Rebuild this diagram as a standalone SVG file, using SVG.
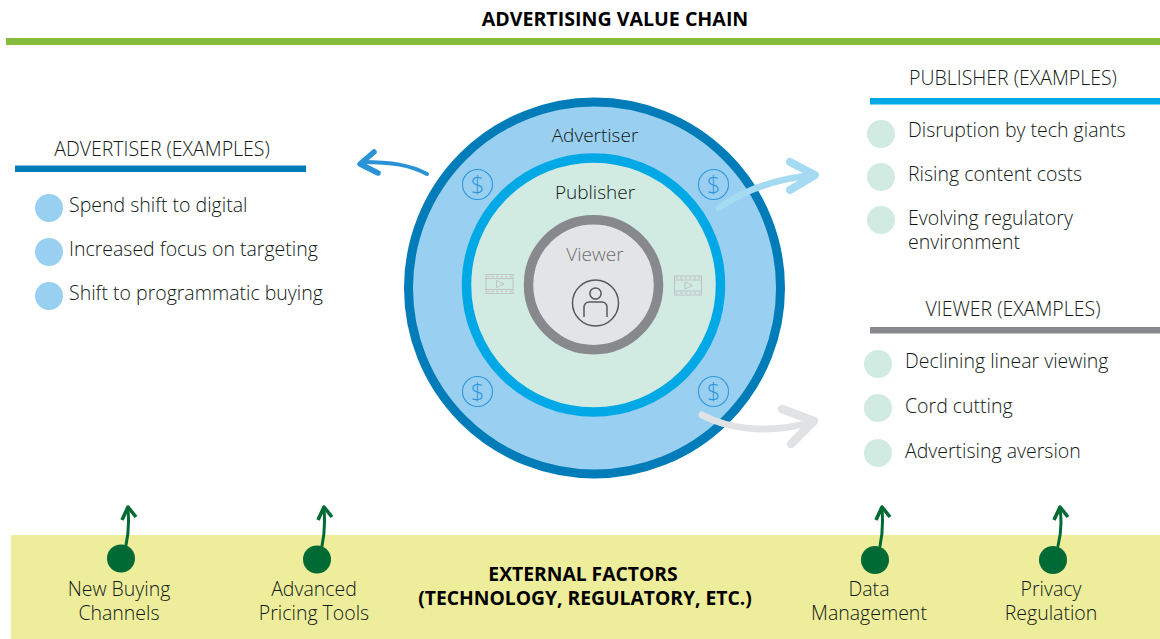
<svg xmlns="http://www.w3.org/2000/svg" width="1160" height="639" viewBox="0 0 1160 639">
<style>
text{font-family:"Open Sans","Noto Sans","Liberation Sans",sans-serif;font-weight:300;font-size:19.5px;fill:#111a15}
.b{font-weight:700;font-size:19.3px;fill:#000}
.t{font-size:19.6px}
.r{font-size:19px}
.m{text-anchor:middle}
.usd{fill:none;stroke:#2e96dc;stroke-width:1.1}
.usdt{font-size:24px;fill:#2e96dc;text-anchor:middle}
.film{fill:none;stroke:#bfc3c4;stroke-width:1}
.film2{fill:none;stroke:#bfc3c4;stroke-width:1;stroke-dasharray:2.5 2}
.g{fill:#006a35}
.gl{fill:none;stroke:#006a35;stroke-width:3;stroke-linecap:round;stroke-linejoin:round}
.gh{fill:none;stroke:#006a35;stroke-width:3.6;stroke-linecap:butt;stroke-linejoin:round}
.arr{fill:none;stroke-linecap:round;stroke-linejoin:round}
</style>
<rect width="1160" height="639" fill="#fff"/>
<g id="title"><text class="b t m" x="615" y="26">ADVERTISING VALUE CHAIN</text><rect x="6" y="38" width="1154" height="7" fill="#86bc3c"/></g>
<g id="external-factors">
<rect x="11" y="535" width="1149" height="104" fill="#eded9b"/>
<text class="b m" x="583" y="581">EXTERNAL FACTORS</text><text class="b m" x="585" y="605">(TECHNOLOGY, REGULATORY, ETC.)</text>
</g>
<g id="rings">
<circle cx="594.5" cy="288" r="186" fill="#99d0f1" stroke="#007cb9" stroke-width="9"/>
<circle cx="593.5" cy="285" r="127" fill="#d1ebe2" stroke="#00a9e6" stroke-width="9.5"/>
<circle cx="593.5" cy="284.7" r="65" fill="#e2e4e6" stroke="#88898d" stroke-width="9.5"/>
<text class="m r" x="595" y="142">Advertiser</text>
<text class="m r" x="595" y="199">Publisher</text>
<text class="m r" x="595" y="261" style="fill:#6d6e71">Viewer</text>
<g id="viewer-icon" fill="none" stroke="#58595b" stroke-width="1.5">
<circle cx="595.5" cy="303" r="23"/><circle cx="595.5" cy="293.5" r="5.6"/>
<path d="M584 317V307a5 5 0 0 1 5-5h13a5 5 0 0 1 5 5v10"/>
</g>
</g>
<g id="dollar-icons">
<circle class="usd" cx="477.500" cy="184.500" r="15"/><text class="usdt" x="477.500" y="193">$</text>
<circle class="usd" cx="713.500" cy="184.500" r="15"/><text class="usdt" x="713.500" y="193">$</text>
<circle class="usd" cx="477.500" cy="391.500" r="15"/><text class="usdt" x="477.500" y="400">$</text>
<circle class="usd" cx="713.500" cy="391.500" r="15"/><text class="usdt" x="713.500" y="400">$</text>
</g>
<g id="film-icons">
<rect class="film" x="486" y="274.500" width="27" height="19"/><path class="film" d="M486 278.500H513M486 289.500H513M496.500 280.500l7.500 3.500-7.500 3.500z"/><path class="film2" d="M487 276.500H513M487 291.500H513"/>
<rect class="film" x="674.500" y="276" width="27" height="19"/><path class="film" d="M674.500 280H701.500M674.500 291H701.500M685 282l7.500 3.500-7.500 3.500z"/><path class="film2" d="M675.500 278H701.500M675.500 293H701.500"/>
</g>
<g id="connectors">
<path class="arr" d="M427 174C410 165 392 162 362 162" stroke="#2a93d5" stroke-width="4"/>
<path class="arr" d="M374 152L360 164L378 173" stroke="#2a93d5" stroke-width="5.500"/>
<path class="arr" d="M719 208C745 189 775 179 814 175" stroke="#a5daf3" stroke-width="6.500"/>
<path class="arr" d="M790 162L815 175L790 190" stroke="#a5daf3" stroke-width="8"/>
<path class="arr" d="M702 415C730 430 770 434 812 422" stroke="#e1e2e4" stroke-width="7"/>
<path class="arr" d="M782 409L814 421L791 444" stroke="#e1e2e4" stroke-width="8.500"/>
<path class="gl" d="M126 545C129 532 129 521 128 509"/><path class="gh" d="M122 520L128 507L136 517"/>
<path class="gl" d="M322 546C325 532 325 521 324 509"/><path class="gh" d="M318 520L324 507L332 517"/>
<path class="gl" d="M880 546C883 532 883 521 882 509"/><path class="gh" d="M876 520L882 507L890 517"/>
<path class="gl" d="M1058 546C1061 534 1062 522 1060 509"/><path class="gh" d="M1054 520L1060 507L1068 517"/>
</g>
<g id="advertiser-examples">
<text class="m" x="162" y="156">ADVERTISER (EXAMPLES)</text><rect x="15" y="165.500" width="291" height="6.500" fill="#007cb9"/>
<circle cx="49" cy="208" r="14" fill="#99d0f1"/><text x="69" y="212">Spend shift to digital</text>
<circle cx="49" cy="252" r="14" fill="#99d0f1"/><text x="69" y="256">Increased focus on targeting</text>
<circle cx="49" cy="296" r="14" fill="#99d0f1"/><text x="69" y="300">Shift to programmatic buying</text>
</g>
<g id="publisher-examples">
<text class="m" x="1013" y="85">PUBLISHER (EXAMPLES)</text><rect x="870" y="98" width="290" height="6.500" fill="#00a9e6"/>
<circle cx="881" cy="134" r="14" fill="#d1ebe2"/><text x="908" y="137">Disruption by tech giants</text>
<circle cx="881" cy="177" r="14" fill="#d1ebe2"/><text x="908" y="181">Rising content costs</text>
<circle cx="881" cy="220" r="14" fill="#d1ebe2"/><text x="908" y="225">Evolving regulatory</text><text x="908" y="249">environment</text>
</g>
<g id="viewer-examples">
<text class="m" x="1013" y="316">VIEWER (EXAMPLES)</text><rect x="870" y="327" width="290" height="6.500" fill="#88898d"/>
<circle cx="878" cy="364" r="14" fill="#d1ebe2"/><text x="905" y="368">Declining linear viewing</text>
<circle cx="878" cy="408" r="14" fill="#d1ebe2"/><text x="905" y="413">Cord cutting</text>
<circle cx="878" cy="453" r="14" fill="#d1ebe2"/><text x="905" y="458">Advertising aversion</text>
</g>
<g id="factor-new-buying"><circle class="g" cx="121" cy="558.500" r="14"/><text class="m" x="119" y="596">New Buying</text><text class="m" x="119" y="620">Channels</text></g>
<g id="factor-pricing"><circle class="g" cx="317" cy="559.500" r="14"/><text class="m" x="314" y="596">Advanced</text><text class="m" x="314" y="620">Pricing Tools</text></g>
<g id="factor-data"><circle class="g" cx="875" cy="560" r="14"/><text class="m" x="869" y="596">Data</text><text class="m" x="869" y="620">Management</text></g>
<g id="factor-privacy"><circle class="g" cx="1053" cy="560" r="14"/><text class="m" x="1051" y="596">Privacy</text><text class="m" x="1051" y="620">Regulation</text></g>
</svg>
